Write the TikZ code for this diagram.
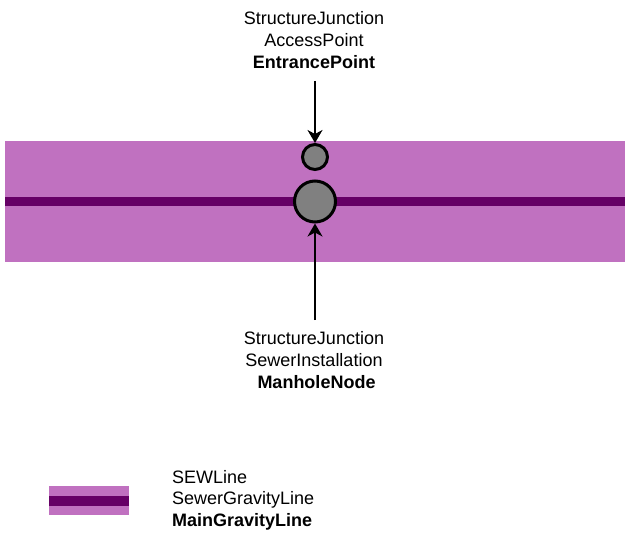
\documentclass[tikz,border=0pt]{standalone}
\usepackage{fontspec}
\setmainfont{Liberation Sans}
\usetikzlibrary{arrows.meta}
\definecolor{bandc}{HTML}{C071C0}
\definecolor{linec}{HTML}{660066}
\definecolor{nodec}{HTML}{808080}
\begin{document}
\begin{tikzpicture}[x=1pt,y=-1pt,
  lbl/.style={align=center,inner sep=0pt,font=\fontsize{18}{21.6}\selectfont},
  lbll/.style={align=left,anchor=west,inner sep=0pt,font=\fontsize{18}{21.6}\selectfont},
  junc/.style={circle,draw=black,line width=3pt,fill=nodec,inner sep=0pt},
  arr/.style={line width=1.5pt,-{Stealth[length=13pt,width=15pt,inset=4pt]}}]
\useasboundingbox (0,0) rectangle (632,540);
% band
\fill[bandc] (5,141) rectangle (625,262);
\fill[linec] (5,197) rectangle (625,206);
% legend
\fill[bandc] (49,486) rectangle (129,515);
\fill[linec] (49,496) rectangle (129,506);
\node[lbll] (legend) at (172,500) {SEWLine\\SewerGravityLine\\\textbf{MainGravityLine}};
% junctions
\node[junc,minimum size=25pt] (entr) at (315,157) {};
\node[junc,minimum size=41pt] (manh) at (315,201.5) {};
% labels
\node[lbl] (toplbl) at (314,40) {StructureJunction\\AccessPoint\\\textbf{EntrancePoint}};
\node[lbl] (botlbl) at (314,360) {StructureJunction\\SewerInstallation\\\hspace*{5pt}\textbf{ManholeNode}};
\coordinate (ta) at (315,81);
\coordinate (ba) at (315,320);
\draw[arr] (ta) -- (entr.north);
\draw[arr] (ba) -- (manh.south);
\end{tikzpicture}
\end{document}
